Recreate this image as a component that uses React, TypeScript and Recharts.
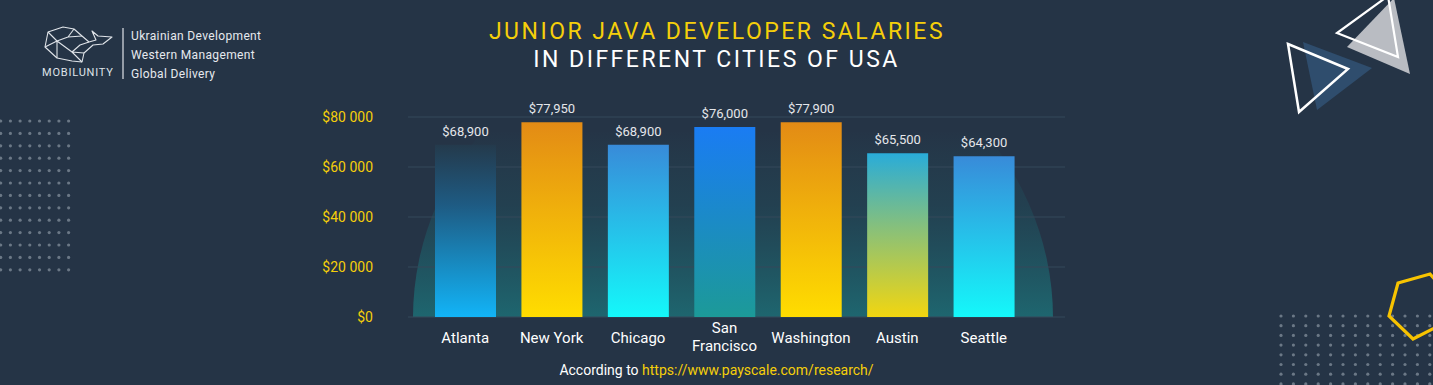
import { BarChart, Bar, XAxis, YAxis, CartesianGrid, LabelList, Cell } from 'recharts';

const cities = ['Atlanta', 'New York', 'Chicago', 'San Francisco', 'Washington', 'Austin', 'Seattle'];
const salaries = [68900, 77950, 68900, 76000, 77900, 65500, 64300];
const yTicks = [0, 20000, 40000, 60000, 80000];

// gradient stops per bar (top -> bottom)
const barGradients = [
  [['0', '#243a4c'], ['0.35', '#1e5b83'], ['1', '#12b4f7']],
  [['0', '#e38b15'], ['1', '#ffdd00']],
  [['0', '#388bd9'], ['1', '#14f8fa']],
  [['0', '#1a7cf3'], ['1', '#1c9a98']],
  [['0', '#e38b15'], ['1', '#ffdd00']],
  [['0', '#29acd9'], ['0.45', '#86c07c'], ['1', '#f2d610']],
  [['0', '#388bd9'], ['1', '#14f8fa']],
];

const data = cities.map((city, i) => ({ city, salary: salaries[i] }));

const BG = '#253446';
const GOLD = '#f5cf0a';

function CityTick({ x, y, payload }: any) {
  const label: string = payload.value;
  const lines = label.length > 10 ? label.split(' ') : [label];
  const startY = lines.length > 1 ? y + 8 : y + 18;
  return (
    <text x={x} y={startY} textAnchor="middle" fill="#ffffff" fontSize={15} fontFamily="Roboto, sans-serif">
      {lines.map((l, i) => (
        <tspan key={i} x={x} dy={i === 0 ? 0 : 18}>{l}</tspan>
      ))}
    </text>
  );
}

function Decorations() {
  const leftDots = [];
  for (let r = 0; r < 13; r++) {
    for (let c = 0; c < 8; c++) {
      leftDots.push(<circle key={`l${r}-${c}`} cx={0.7 + c * 9.7} cy={121 + r * 12.4} r={1.6} fill="#6b7886" />);
    }
  }
  const rightDots = [];
  for (let r = 0; r < 8; r++) {
    for (let c = 0; c < 13; c++) {
      rightDots.push(<circle key={`r${r}-${c}`} cx={1281 + c * 12.4} cy={316 + r * 9.7} r={1.6} fill="#6b7886" />);
    }
  }
  return (
    <svg width={1433} height={385} style={{ position: 'absolute', left: 0, top: 0 }}>
      <defs>
        <linearGradient id="glow" gradientUnits="userSpaceOnUse" x1="0" y1="130" x2="0" y2="317">
          <stop offset="0" stopColor="#1e646d" stopOpacity={0} />
          <stop offset="0.4" stopColor="#1e5c68" stopOpacity={0.3} />
          <stop offset="1" stopColor="#1e666f" stopOpacity={1} />
        </linearGradient>
        <clipPath id="glowClip">
          <rect x={0} y={0} width={1433} height={317} />
        </clipPath>
      </defs>
      <ellipse cx={733} cy={318} rx={320} ry={300} fill="url(#glow)" clipPath="url(#glowClip)" />
      {leftDots}
      {rightDots}
      {/* logo whale */}
      <g fill="none" stroke="#dfe3e8" strokeWidth={1.1} strokeLinejoin="round">
        <path d="M48,32 L63,27 L74,29 L82,36 L89,42 L96,40 L92,31 L98,36 L112,37 L103,44 L93,45 L84,53 L82,62 L72,61 L57,58 L45,47 Z" />
        <path d="M48,32 L57,41 L68,37 L74,29 M57,41 L57,58 M57,41 L72,52 L82,62 M68,37 L82,36 M72,52 L84,53 M72,52 L80,45 L89,42 M45,47 L57,41" />
      </g>
      <line x1={123} y1={28} x2={123} y2={79} stroke="#dfe3e8" strokeWidth={1.2} />
      {/* triangles */}
      <polygon points="1347,47 1410,74 1394,-2" fill="#b9bcc2" />
      <polygon points="1337,33 1398,57 1388,-4" fill="none" stroke="#ffffff" strokeWidth={2.2} />
      <polygon points="1303,42 1372,68 1317,110" fill="#2f4d6d" />
      <polygon points="1288,44 1348,69 1299,112" fill="none" stroke="#ffffff" strokeWidth={2.5} />
      {/* hexagon */}
      <polygon points="1398,283 1430,274 1446,292 1446,322 1413,339 1389,316" fill="none" stroke="#f7c300" strokeWidth={3.2} strokeLinejoin="miter" />
    </svg>
  );
}

export default function App() {
  const textFont = 'Roboto, sans-serif';
  return (
    <div style={{ position: 'absolute', left: 0, top: 0, width: 1433, height: 385, background: BG, overflow: 'hidden', fontFamily: textFont }}>
      <Decorations />
      <div style={{ position: 'absolute', left: 42, top: 66, color: '#dfe3e8', fontSize: 11, letterSpacing: 0.8 }}>MOBILUNITY</div>
      <div style={{ position: 'absolute', left: 131, top: 27, color: '#e6e9ee', fontSize: 12, lineHeight: '19px', letterSpacing: 0.35 }}>
        <div>Ukrainian Development</div>
        <div>Western Management</div>
        <div>Global Delivery</div>
      </div>
      <div style={{ position: 'absolute', left: 0, width: 1433, top: 18, textAlign: 'center', fontSize: 23, letterSpacing: 2.5, lineHeight: '28px' }}>
        <div style={{ color: GOLD, marginLeft: 1 }}>JUNIOR JAVA DEVELOPER SALARIES</div>
        <div style={{ color: '#ffffff' }}>IN DIFFERENT CITIES OF USA</div>
      </div>
      <div style={{ position: 'absolute', left: 0, top: 0 }}>
        <BarChart width={1433} height={385} data={data} margin={{ top: 117, right: 368, bottom: 28, left: 348 }}>
          <defs>
            {barGradients.map((stops, i) => (
              <linearGradient key={i} id={`bar-${i}`} x1="0" y1="0" x2="0" y2="1">
                {stops.map(([o, c]) => (
                  <stop key={o} offset={o} stopColor={c} />
                ))}
              </linearGradient>
            ))}
          </defs>
          <CartesianGrid vertical={false} stroke="#34485a" strokeWidth={1} />
          <XAxis
            dataKey="city"
            height={40}
            axisLine={false}
            tickLine={false}
            interval={0}
            padding={{ left: 14, right: 38 }}
            tick={<CityTick />}
          />
          <YAxis
            width={60}
            domain={[0, 80000]}
            ticks={yTicks}
            axisLine={false}
            tickLine={false}
            tickSize={0}
            tickMargin={35}
            tick={{ fill: GOLD, fontSize: 14, fontFamily: textFont }}
            tickFormatter={(v: number) => (v === 0 ? '$0' : `$${v / 1000} 000`)}
          />
          <Bar dataKey="salary" barSize={61} isAnimationActive={false}>
            {data.map((_, i) => (
              <Cell key={i} fill={`url(#bar-${i})`} />
            ))}
            <LabelList
              dataKey="salary"
              position="top"
              offset={9}
              fill="#e4e6ea"
              fontSize={13}
              fontFamily={textFont}
              formatter={(v: any) => `$${Number(v).toLocaleString('en-US')}`}
            />
          </Bar>
        </BarChart>
      </div>
      <div style={{ position: 'absolute', left: 0, width: 1433, top: 362, textAlign: 'center', fontSize: 14, color: '#ffffff' }}>
        According to <span style={{ color: GOLD }}>https://www.payscale.com/research/</span>
      </div>
    </div>
  );
}
